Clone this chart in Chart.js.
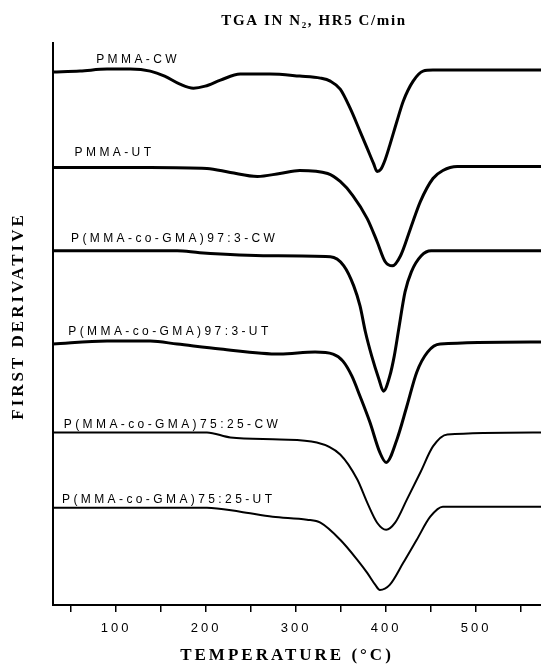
<!DOCTYPE html>
<html>
<head>
<meta charset="utf-8">
<title>TGA first derivative</title>
<script src="https://cdn.jsdelivr.net/npm/chart.js@4.4.1/dist/chart.umd.min.js"></script>
<style>
  html, body { margin: 0; padding: 0; background: #fff; }
  #wrap { width: 541px; height: 667px; }
</style>
</head>
<body>
<div id="wrap"><canvas id="dtg" width="541" height="667"></canvas></div>
<script>
// Series names (stacked top to bottom)
const seriesNames = [
    'PMMA-CW',
    'PMMA-UT',
    'P(MMA-co-GMA)97:3-CW',
    'P(MMA-co-GMA)97:3-UT',
    'P(MMA-co-GMA)75:25-CW',
    'P(MMA-co-GMA)75:25-UT'
];

// Temperature (°C) and offset derivative values
const pmmaCwTemp = [30, 60, 90, 116, 138, 154, 171, 186, 199, 216, 238, 271, 304, 327, 338, 349, 360, 371, 379, 386, 390, 394, 399, 404, 412, 419, 430, 441, 452, 572];
const pmmaCwVal  = [531, 532, 534, 534, 532, 527, 519, 515, 517, 523, 529, 529, 527, 525, 522, 514, 495, 472, 455, 440, 432, 434, 444, 458, 482, 502, 522, 532, 533, 533];

const pmmaUtTemp = [30, 82, 138, 201, 227, 257, 282, 304, 335, 349, 363, 379, 390, 399, 407, 416, 427, 438, 452, 463, 479, 572];
const pmmaUtVal  = [436, 436, 436, 435, 431, 427, 430, 433, 430, 422, 408, 385, 362, 342, 338, 348, 375, 402, 425, 433, 437, 437];

const gma97CwTemp = [30, 104, 168, 193, 271, 338, 353, 364, 371, 377, 384, 392, 397, 404, 409, 414, 421, 428, 439, 450, 572];
const gma97CwVal  = [353, 353, 353, 351, 348, 347, 338, 318, 298, 272, 248, 225, 213, 228, 248, 275, 312, 332, 348, 353, 353];

const gma97UtTemp = [30, 90, 138, 168, 216, 282, 321, 341, 352, 362, 371, 382, 393, 400, 412, 423, 434, 446, 460, 572];
const gma97UtVal  = [260, 263, 263, 260, 255, 250, 252, 250, 243, 228, 208, 182, 152, 142, 165, 198, 232, 252, 260, 262];

const gma75CwTemp = [30, 104, 201, 227, 282, 323, 349, 368, 379, 390, 400, 410, 423, 438, 452, 468, 572];
const gma75CwVal  = [172, 172, 172, 167, 165, 162, 150, 125, 102, 82, 75, 82, 105, 132, 158, 170, 172];

const gma75UtTemp = [30, 104, 201, 238, 274, 312, 327, 349, 368, 379, 388, 393, 404, 419, 434, 449, 463, 572];
const gma75UtVal  = [97, 97, 97, 93, 88, 85, 82, 65, 45, 32, 20, 15, 20, 42, 65, 88, 98, 98];

// x axis ticks
const xTickValues = [50, 100, 150, 200, 250, 300, 350, 400, 450, 500, 550];
const xTickLabels = ['', '100', '', '200', '', '300', '', '400', '', '500', ''];

const allTemps = [pmmaCwTemp, pmmaUtTemp, gma97CwTemp, gma97UtTemp, gma75CwTemp, gma75UtTemp];
const allVals = [pmmaCwVal, pmmaUtVal, gma97CwVal, gma97UtVal, gma75CwVal, gma75UtVal];

// label anchors: temperature of left edge, value of baseline
const labelSpots = [
    { t: 78, v: 540 },
    { t: 54, v: 447 },
    { t: 50, v: 362 },
    { t: 47, v: 269 },
    { t: 42, v: 176 },
    { t: 40, v: 102 }
];
const lineWidths = [3, 3, 3, 3, 2, 2];

const datasets = seriesNames.map((name, i) => ({
    label: name,
    data: allTemps[i].map((t, j) => ({ x: t, y: allVals[i][j] })),
    borderColor: '#000',
    borderWidth: lineWidths[i],
    pointRadius: 0,
    fill: false,
    cubicInterpolationMode: 'monotone'
}));

// draws the curve labels and the axis titles with spaced lettering
const textOverlay = {
    id: 'textOverlay',
    beforeDraw(chart) {
        // wider spacing for the tick numbers
        chart.ctx.letterSpacing = '3px';
    },
    afterDraw(chart) {
        const ctx = chart.ctx;
        const xs = chart.scales.x;
        const ys = chart.scales.y;
        ctx.save();
        ctx.fillStyle = '#000';

        // curve labels
        ctx.font = '12px "Liberation Sans", Arial, sans-serif';
        ctx.letterSpacing = '3.4px';
        ctx.textAlign = 'left';
        ctx.textBaseline = 'alphabetic';
        seriesNames.forEach((name, i) => {
            ctx.fillText(name, xs.getPixelForValue(labelSpots[i].t), ys.getPixelForValue(labelSpots[i].v));
        });

        // top title
        ctx.font = 'bold 15px "Liberation Serif", "Times New Roman", serif';
        ctx.letterSpacing = '1.6px';
        ctx.textAlign = 'center';
        ctx.textBaseline = 'middle';
        ctx.fillText('TGA IN N\u2082, HR5 C/min', 314, 21);

        // x axis title
        ctx.font = 'bold 17px "Liberation Serif", "Times New Roman", serif';
        ctx.letterSpacing = '3px';
        ctx.fillText('TEMPERATURE (\u00B0C)', 287, 656);

        // y axis title
        ctx.translate(19, 316);
        ctx.rotate(-Math.PI / 2);
        ctx.fillText('FIRST DERIVATIVE', 0, 0);
        ctx.restore();
        ctx.letterSpacing = '0px';
    }
};

new Chart(document.getElementById('dtg'), {
    type: 'line',
    data: { datasets: datasets },
    options: {
        responsive: false,
        animation: false,
        events: [],
        layout: { padding: { top: 43, right: 0, left: 0, bottom: 0 } },
        plugins: {
            legend: { display: false },
            tooltip: { enabled: false },
            title: { display: false }
        },
        scales: {
            x: {
                type: 'linear',
                min: 30,
                max: 572,
                afterBuildTicks: (scale) => {
                    scale.ticks = xTickValues.map(v => ({ value: v }));
                },
                afterFit: (scale) => { scale.height = 62; },
                border: { display: true, color: '#000', width: 2 },
                grid: {
                    drawOnChartArea: false,
                    drawTicks: true,
                    tickLength: 7,
                    color: '#000',
                    lineWidth: 1.5
                },
                ticks: {
                    color: '#000',
                    padding: 9,
                    maxRotation: 0,
                    autoSkip: false,
                    font: { family: '"Liberation Sans", Arial, sans-serif', size: 13 },
                    callback: (v) => {
                        const k = xTickValues.indexOf(v);
                        return k >= 0 ? xTickLabels[k] : '';
                    }
                }
            },
            y: {
                type: 'linear',
                min: 0,
                max: 560,
                afterFit: (scale) => { scale.width = 53; },
                border: { display: true, color: '#000', width: 2 },
                grid: { display: false },
                ticks: { display: false }
            }
        }
    },
    plugins: [textOverlay]
});
</script>
</body>
</html>
